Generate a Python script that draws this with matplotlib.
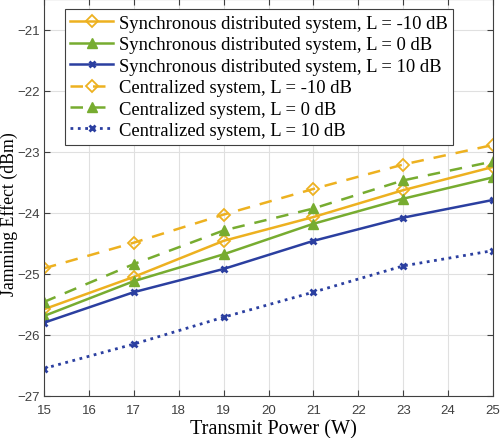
import numpy as np
import matplotlib
matplotlib.use('Agg')
import matplotlib.pyplot as plt

power = [15, 17, 19, 21, 23, 25]

sync_m10 = [-25.58, -25.05, -24.46, -24.07, -23.63, -23.25]
sync_0 = [-25.69, -25.12, -24.68, -24.18, -23.77, -23.42]
sync_10 = [-25.80, -25.30, -24.92, -24.46, -24.08, -23.79]
cent_m10 = [-24.91, -24.49, -24.03, -23.61, -23.21, -22.89]
cent_0 = [-25.46, -24.84, -24.29, -23.93, -23.47, -23.16]
cent_10 = [-26.55, -26.15, -25.71, -25.30, -24.87, -24.62]

labels = ['Synchronous distributed system, L = -10 dB',
          'Synchronous distributed system, L = 0 dB',
          'Synchronous distributed system, L = 10 dB',
          'Centralized system, L = -10 dB',
          'Centralized system, L = 0 dB',
          'Centralized system, L = 10 dB']

orange = '#EDB120'
green = '#77AC30'
blue = '#2B3FA0'

fig = plt.figure(figsize=(5.0, 4.39), dpi=100)
ax = fig.add_axes([0.088, 0.0957, 0.898, 0.9043])

ax.plot(power, sync_m10, '-', color=orange, lw=1.8, marker='D', ms=6.5,
        mfc='none', mec=orange, mew=1.3, label=labels[0])
ax.plot(power, sync_0, '-', color=green, lw=1.8, marker='^', ms=7.5,
        mfc=green, mec=green, label=labels[1])
ax.plot(power, sync_10, '-', color=blue, lw=1.8, marker='x', ms=5,
        mew=2, label=labels[2])
ax.plot(power, cent_m10, '--', color=orange, lw=1.8, marker='D', ms=6.5,
        mfc='none', mec=orange, mew=1.3, dashes=(5, 4), label=labels[3])
ax.plot(power, cent_0, '--', color=green, lw=1.8, marker='^', ms=7.5,
        mfc=green, mec=green, dashes=(5, 4), label=labels[4])
ax.plot(power, cent_10, ':', color=blue, lw=2, marker='x', ms=5,
        mew=2, label=labels[5])

ax.set_xlim(15, 25)
ax.set_ylim(-27, -20.5)
ax.set_xticks(range(15, 26))
ax.set_yticks(range(-27, -20))
ax.grid(True, color='#E0E0E0', lw=0.8)
ax.tick_params(direction='in', top=True, right=True, labelsize=9.5,
               colors='#404040', length=4)
ax.tick_params(axis='x', pad=6)
ax.tick_params(axis='y', pad=3)
for lbl in ax.get_xticklabels() + ax.get_yticklabels():
    lbl.set_fontfamily('Liberation Sans')
for s in ax.spines.values():
    s.set_color('#404040')

ax.set_xlabel('Transmit Power (W)', fontfamily='Liberation Serif', fontsize=14.6)
ax.set_ylabel('Jamming Effect (dBm)', fontfamily='Liberation Serif', fontsize=12.8)
ax.yaxis.set_label_coords(-0.059, 0.46)
ax.xaxis.set_label_coords(0.511, -0.058)

leg = ax.legend(loc='upper left', bbox_to_anchor=(0.046, 0.975),
                prop={'family': 'Liberation Serif', 'size': 13.4},
                fancybox=False, edgecolor='#404040', framealpha=1,
                handlelength=2.3, handletextpad=0.3, labelspacing=0.24,
                borderpad=0.3, borderaxespad=0)
leg.get_frame().set_linewidth(0.8)

fig.savefig('out.png', dpi=100)
